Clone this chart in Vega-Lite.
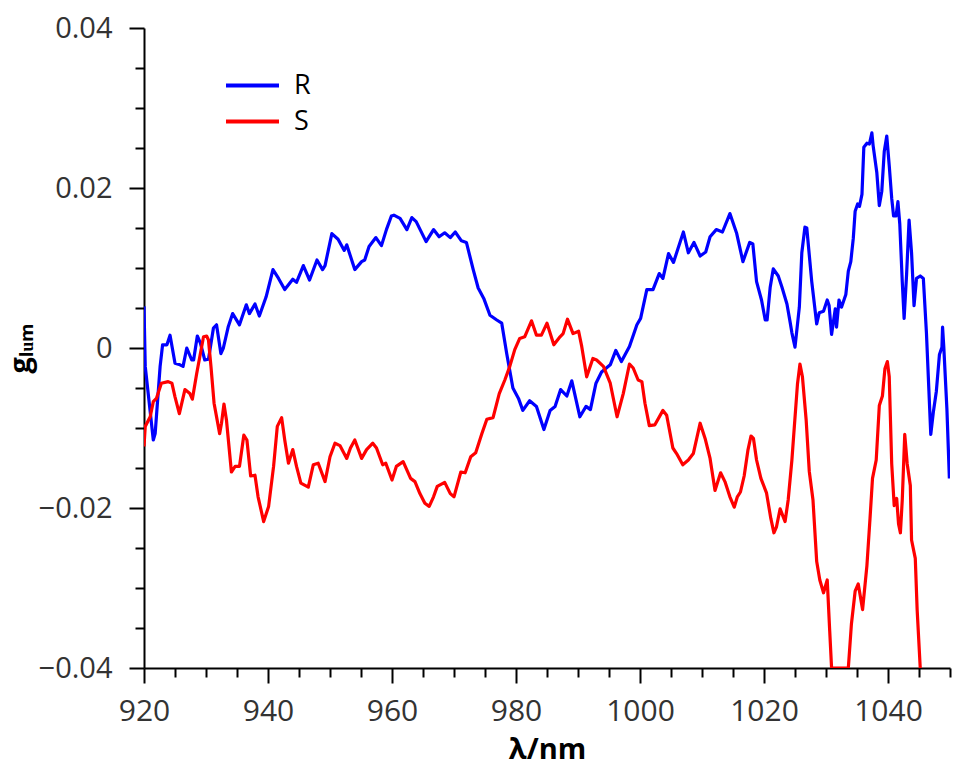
{
  "$schema": "https://vega.github.io/schema/vega-lite/v6.json",
  "width": 806,
  "height": 640,
  "autosize": "none",
  "padding": {"left": 144, "top": 28, "right": 3, "bottom": 108},
  "background": "white",
  "config": {
    "view": {"stroke": null},
    "axis": {
      "domainColor": "#000000",
      "domainWidth": 2,
      "tickColor": "#000000",
      "tickWidth": 2,
      "grid": false,
      "labelFont": "Open Sans",
      "labelFontSize": 30,
      "labelColor": "#333333",
      "titleFont": "Open Sans",
      "titleFontSize": 29,
      "titleFontWeight": "bold",
      "titleColor": "#000000"
    }
  },
  "datasets": {
    "R": [
      [920.0,0.0052],[920.2,-0.0023],[921.5,-0.0115],[921.8,-0.0107],[922.6,-0.0023],[923.0,0.0004],[923.7,0.0004],[924.2,0.0016],[925.0,-0.0019],[925.8,-0.0021],[926.3,-0.0023],[926.9,0.0],[927.7,-0.0015],[928.0,-0.0015],[928.6,0.0015],[929.1,0.0006],[929.8,-0.0015],[930.4,-0.0014],[931.2,0.0025],[931.7,0.0029],[932.4,-0.0007],[932.8,0.0],[933.6,0.0027],[934.3,0.0043],[935.4,0.0029],[936.5,0.0054],[937.0,0.0043],[937.9,0.0055],[938.6,0.004],[939.7,0.0064],[940.8,0.0098],[941.7,0.0087],[942.7,0.0073],[944.0,0.0086],[944.6,0.0082],[945.7,0.0103],[946.7,0.0085],[947.9,0.011],[948.8,0.0098],[949.2,0.0103],[950.3,0.0143],[951.3,0.0136],[952.3,0.0122],[952.7,0.0129],[954.0,0.0098],[955.1,0.0108],[955.6,0.011],[956.3,0.0127],[957.4,0.0138],[958.3,0.0128],[959.1,0.0148],[959.9,0.0165],[960.3,0.0166],[961.3,0.0162],[962.4,0.0148],[963.2,0.0163],[963.9,0.0158],[965.5,0.0133],[966.7,0.0148],[967.6,0.0139],[968.5,0.0144],[969.4,0.0138],[970.2,0.0145],[971.2,0.0134],[972.0,0.0132],[973.1,0.0098],[973.9,0.0075],[974.8,0.0062],[975.8,0.0041],[976.9,0.0035],[977.7,0.0031],[978.5,-0.0007],[979.5,-0.005],[980.4,-0.0063],[981.1,-0.0078],[982.2,-0.0066],[983.3,-0.0073],[984.5,-0.0102],[985.5,-0.0078],[986.3,-0.0073],[987.2,-0.0052],[988.2,-0.006],[989.0,-0.0041],[990.3,-0.0086],[991.3,-0.0073],[992.0,-0.0077],[992.9,-0.0044],[993.8,-0.003],[995.2,-0.0021],[996.1,-0.0003],[997.0,-0.0017],[998.3,0.0002],[999.5,0.0029],[1000.1,0.0037],[1001.1,0.0073],[1002.1,0.0073],[1003.1,0.0093],[1003.7,0.0087],[1004.6,0.0118],[1005.4,0.0107],[1007.0,0.0145],[1007.8,0.0119],[1008.7,0.0132],[1009.7,0.0115],[1010.6,0.012],[1011.3,0.0139],[1012.3,0.0148],[1013.3,0.0145],[1014.5,0.0168],[1015.6,0.0143],[1016.6,0.0108],[1017.7,0.0132],[1018.2,0.013],[1018.8,0.0083],[1019.6,0.006],[1020.2,0.0035],[1020.5,0.0035],[1021.0,0.0076],[1021.5,0.0099],[1022.3,0.009],[1022.9,0.0076],[1023.7,0.0055],[1024.2,0.0033],[1024.5,0.0019],[1025.0,0.0001],[1025.7,0.0051],[1026.1,0.0119],[1026.6,0.0151],[1026.9,0.015],[1027.7,0.0083],[1028.5,0.003],[1028.9,0.0044],[1029.6,0.0046],[1030.2,0.006],[1030.5,0.0053],[1030.9,0.0017],[1031.5,0.0049],[1031.7,0.0026],[1032.1,0.006],[1032.5,0.0051],[1033.2,0.0067],[1033.6,0.0096],[1034.0,0.0108],[1034.4,0.0137],[1034.7,0.0171],[1035.1,0.018],[1035.4,0.0177],[1035.8,0.0192],[1036.1,0.0251],[1036.6,0.0256],[1037.0,0.0255],[1037.4,0.0269],[1037.6,0.0253],[1038.2,0.0219],[1038.6,0.0178],[1039.0,0.0196],[1039.4,0.0246],[1039.8,0.0265],[1040.2,0.0228],[1040.6,0.0187],[1040.9,0.0165],[1041.3,0.0165],[1041.6,0.0183],[1041.9,0.0155],[1042.3,0.0083],[1042.6,0.0037],[1043.0,0.0092],[1043.4,0.016],[1043.8,0.0119],[1044.2,0.0053],[1044.6,0.0087],[1045.2,0.009],[1045.7,0.0087],[1046.2,0.0019],[1046.9,-0.0108],[1047.3,-0.0081],[1047.8,-0.0054],[1048.3,-0.0008],[1048.7,0.0001],[1048.8,0.0026],[1049.0,0.0001],[1049.5,-0.0076],[1049.9,-0.0163]
    ],
    "S": [
      [920.0,-0.0123],[920.2,-0.0098],[921.0,-0.0086],[921.5,-0.0067],[922.0,-0.0063],[922.8,-0.0044],[923.9,-0.0042],[924.5,-0.0044],[925.0,-0.0061],[925.7,-0.0082],[926.6,-0.0052],[927.4,-0.0057],[927.8,-0.0064],[928.5,-0.0032],[929.0,-0.0011],[929.6,0.0014],[930.1,0.0015],[930.4,0.001],[930.8,-0.0023],[931.3,-0.0069],[932.2,-0.0107],[932.5,-0.0094],[932.9,-0.007],[933.3,-0.009],[934.1,-0.0155],[934.7,-0.0148],[935.4,-0.0148],[936.1,-0.0109],[936.6,-0.0115],[937.2,-0.016],[937.9,-0.0159],[938.4,-0.0186],[939.3,-0.0217],[940.1,-0.0198],[940.9,-0.0148],[941.5,-0.0098],[942.2,-0.0087],[942.7,-0.0115],[943.3,-0.0144],[944.0,-0.0127],[944.6,-0.0148],[945.3,-0.0169],[946.5,-0.0174],[947.3,-0.0146],[948.1,-0.0144],[949.2,-0.0167],[950.0,-0.0136],[950.8,-0.0119],[951.6,-0.0122],[952.7,-0.0138],[953.3,-0.0125],[954.0,-0.0115],[955.1,-0.0138],[955.9,-0.0127],[956.9,-0.0119],[957.5,-0.0125],[958.5,-0.0146],[959.0,-0.0144],[960.0,-0.0165],[960.7,-0.0148],[961.8,-0.0142],[963.0,-0.0163],[963.7,-0.0167],[964.5,-0.0182],[965.3,-0.0194],[966.0,-0.0198],[966.7,-0.0186],[967.3,-0.0173],[968.5,-0.0168],[969.4,-0.0182],[970.0,-0.0186],[971.1,-0.0155],[971.8,-0.0156],[972.7,-0.0136],[973.5,-0.0131],[974.5,-0.0107],[975.3,-0.0089],[976.3,-0.0087],[977.3,-0.0057],[978.2,-0.004],[979.0,-0.0023],[979.8,-0.0002],[980.6,0.0012],[981.4,0.0014],[982.5,0.0034],[983.3,0.0016],[984.1,0.0016],[985.0,0.0031],[986.1,0.0004],[987.1,0.0014],[987.6,0.0018],[988.3,0.0036],[989.2,0.0018],[990.1,0.0021],[990.6,0.0002],[991.4,-0.0036],[992.4,-0.0013],[993.0,-0.0015],[994.1,-0.0023],[995.2,-0.0044],[996.3,-0.0086],[997.3,-0.0057],[998.3,-0.002],[998.9,-0.0025],[999.7,-0.004],[1000.3,-0.0042],[1000.8,-0.0069],[1001.5,-0.0097],[1002.4,-0.0096],[1003.7,-0.0078],[1004.3,-0.0084],[1005.3,-0.0125],[1005.9,-0.0132],[1006.9,-0.0146],[1007.8,-0.014],[1008.6,-0.0132],[1009.7,-0.0094],[1010.5,-0.0113],[1011.3,-0.0138],[1012.1,-0.0178],[1013.0,-0.0156],[1013.7,-0.0167],[1014.5,-0.0186],[1015.2,-0.0199],[1015.7,-0.0186],[1016.2,-0.018],[1016.8,-0.016],[1017.4,-0.0128],[1017.9,-0.011],[1018.3,-0.0113],[1018.8,-0.014],[1019.5,-0.0163],[1020.4,-0.0181],[1021.1,-0.0213],[1021.6,-0.0231],[1022.0,-0.0224],[1022.6,-0.0201],[1023.4,-0.0217],[1023.9,-0.019],[1024.5,-0.014],[1024.8,-0.0108],[1025.4,-0.0045],[1025.8,-0.002],[1026.2,-0.0036],[1026.8,-0.009],[1027.3,-0.0154],[1027.9,-0.019],[1028.5,-0.0267],[1029.0,-0.029],[1029.6,-0.0306],[1030.2,-0.029],[1030.6,-0.0354],[1030.9,-0.04],[1033.6,-0.04],[1034.1,-0.0345],[1034.7,-0.0304],[1035.2,-0.0295],[1035.9,-0.0327],[1036.6,-0.0272],[1037.1,-0.0213],[1037.5,-0.0163],[1038.1,-0.014],[1038.6,-0.0072],[1039.1,-0.006],[1039.5,-0.0026],[1039.9,-0.0017],[1040.2,-0.0036],[1040.6,-0.0145],[1041.0,-0.0197],[1041.4,-0.0188],[1041.7,-0.022],[1042.0,-0.0231],[1042.3,-0.019],[1042.7,-0.0108],[1043.1,-0.0145],[1043.6,-0.0172],[1043.8,-0.024],[1044.4,-0.0263],[1044.7,-0.0327],[1045.2,-0.04],[1045.5,-0.045]
    ]
  },
  "data": {"values": []},
  "layer": [
    {
      "data": {"name": "R"},
      "transform": [
        {"calculate": "datum[0]", "as": "lambda"},
        {"calculate": "datum[1]", "as": "g"},
        {"calculate": "'R'", "as": "series"}
      ],
      "mark": {"type": "line", "strokeWidth": 3.2, "clip": true, "strokeJoin": "round"},
      "encoding": {
        "x": {"field": "lambda", "type": "quantitative"},
        "y": {"field": "g", "type": "quantitative"},
        "color": {"field": "series", "type": "nominal"}
      }
    },
    {
      "data": {"name": "S"},
      "transform": [
        {"calculate": "datum[0]", "as": "lambda"},
        {"calculate": "datum[1]", "as": "g"},
        {"calculate": "'S'", "as": "series"}
      ],
      "mark": {"type": "line", "strokeWidth": 3.2, "clip": true, "strokeJoin": "round"},
      "encoding": {
        "x": {"field": "lambda", "type": "quantitative"},
        "y": {"field": "g", "type": "quantitative"},
        "color": {"field": "series", "type": "nominal"}
      }
    }
  ],
  "encoding": {
    "x": {
      "field": "lambda",
      "type": "quantitative",
      "scale": {"domain": [920, 1050], "nice": false, "zero": false},
      "axis": {
        "title": "λ/nm",
        "values": [920,925,930,935,940,945,950,955,960,965,970,975,980,985,990,995,1000,1005,1010,1015,1020,1025,1030,1035,1040,1045,1050],
        "labelExpr": "datum.value % 20 == 0 ? format(datum.value, 'd') : ''",
        "tickSize": {"condition": {"test": "datum.value % 20 == 0", "value": 15}, "value": 9},
        "labelPadding": 13,
        "titlePadding": 9,
        "labelFlush": false,
        "labelOverlap": false
      }
    },
    "y": {
      "field": "g",
      "type": "quantitative",
      "scale": {"domain": [-0.04, 0.04], "nice": false, "zero": false},
      "axis": {
        "title": "gₗᵤₘ",
        "values": [-0.04,-0.035,-0.03,-0.025,-0.02,-0.015,-0.01,-0.005,0,0.005,0.01,0.015,0.02,0.025,0.03,0.035,0.04],
        "labelExpr": "abs(round(datum.value*1000)) % 20 == 0 ? format(datum.value, '~g') : ''",
        "tickSize": {"condition": {"test": "abs(round(datum.value*1000)) % 20 == 0", "value": 15}, "value": 9},
        "labelPadding": 17,
        "labelFontSize": 29,
        "titlePadding": 3,
        "labelFlush": false,
        "labelOverlap": false
      }
    },
    "color": {
      "field": "series",
      "type": "nominal",
      "scale": {"domain": ["R", "S"], "range": ["#0000ff", "#ff0000"]},
      "legend": {
        "orient": "none",
        "legendX": 95,
        "legendY": 44,
        "title": null,
        "padding": 0,
        "rowPadding": 8,
        "symbolType": "M-5.3,0H5.3",
        "symbolSize": 100,
        "symbolStrokeWidth": 4,
        "symbolFillColor": "transparent",
        "labelFont": "Open Sans",
        "labelFontSize": 27,
        "labelColor": "#000000",
        "labelOffset": 28
      }
    }
  }
}
